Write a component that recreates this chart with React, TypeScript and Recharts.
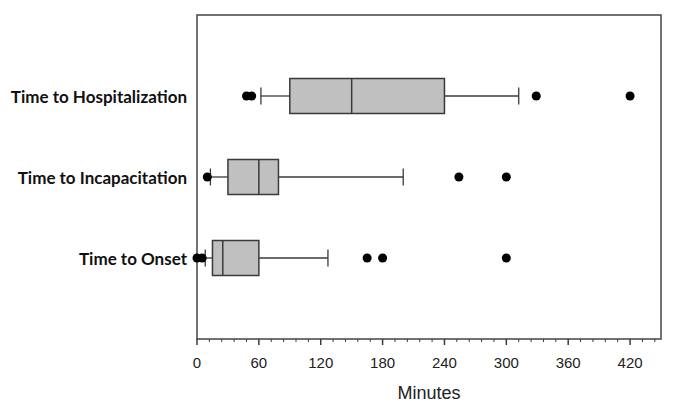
// Horizontal box plots: time from exposure to onset / incapacitation / hospitalization.

import {
  ComposedChart,
  Scatter,
  XAxis,
  YAxis,
  ReferenceArea,
  ReferenceLine,
} from 'recharts'

// bottom to top (y = 1, 2, 3)
const categories = ['Time to Onset', 'Time to Incapacitation', 'Time to Hospitalization']
const whiskerLow = [8, 13, 62]
const q1 = [15, 30, 90]
const median = [25, 60, 150]
const q3 = [60, 79, 240]
const whiskerHigh = [127, 200, 312]
const outliers = [
  [0, 5, 165, 180, 300],
  [10, 254, 300],
  [48, 53, 329, 420],
]
const minorTicks = Array.from({ length: 38 }, (_, i) => i * 12)

const BOX_HALF = 0.215
const CAP_HALF = 0.105
const LINE = '#3a3a3a'

const outlierData = outliers.flatMap((vals, i) => vals.map((v) => ({ x: v, y: i + 1 })))

function XTick({ x, y, payload }: { x: number; y: number; payload: { value: number } }) {
  const major = payload.value % 60 === 0
  return (
    <g>
      <line x1={x} x2={x} y1={y} y2={y + (major ? 6 : 3)} stroke={LINE} strokeWidth={major ? 1.5 : 1} />
      {major && (
        <text
          x={x}
          y={y + 23}
          textAnchor="middle"
          dominantBaseline="central"
          fontSize={15}
          fontFamily="Liberation Sans, Arial, sans-serif"
          fill="#222"
        >
          {payload.value}
        </text>
      )}
    </g>
  )
}

function YTick({ x, y, payload }: { x: number; y: number; payload: { value: number } }) {
  return (
    <text
      x={x}
      y={y}
      textAnchor="end"
      dominantBaseline="central"
      fontSize={17}
      fontWeight="bold"
      fontFamily="Lato, sans-serif"
      fill="#111"
    >
      {categories[payload.value - 1]}
    </text>
  )
}

export default function App() {
  return (
    <div style={{ position: 'absolute', left: 0, top: 0, background: '#fff' }}>
      <ComposedChart
        width={685}
        height={417}
        margin={{ top: 15, right: 24, bottom: 0, left: 0 }}
      >
        <XAxis
          type="number"
          dataKey="x"
          domain={[0, 450]}
          ticks={minorTicks}
          interval={0}
          tick={(p: any) => <XTick x={p.x} y={p.y} payload={p.payload} />}
          tickLine={false}
          tickSize={0}
          tickMargin={0}
          axisLine={false}
          height={78}
          label={{
            value: 'Minutes',
            position: 'insideBottom',
            offset: 18,
            fontSize: 18,
            fontFamily: 'Liberation Sans, Arial, sans-serif',
            fill: '#222',
          }}
        />
        <YAxis
          type="number"
          dataKey="y"
          domain={[0, 4]}
          ticks={[1, 2, 3]}
          width={197}
          tick={(p: any) => <YTick x={p.x} y={p.y} payload={p.payload} />}
          tickLine={false}
          axisLine={false}
          tickMargin={4}
        />
        {/* plot frame */}
        <ReferenceArea x1={0} x2={450} y1={0} y2={4} fill="none" stroke="#444" strokeWidth={1.5} />
        {categories.map((_, i) => {
          const c = i + 1
          return [
            <ReferenceLine
              key={`wl${i}`}
              segment={[{ x: whiskerLow[i], y: c }, { x: q1[i], y: c }]}
              stroke={LINE}
              strokeWidth={1.3}
            />,
            <ReferenceLine
              key={`wh${i}`}
              segment={[{ x: q3[i], y: c }, { x: whiskerHigh[i], y: c }]}
              stroke={LINE}
              strokeWidth={1.3}
            />,
            <ReferenceLine
              key={`cl${i}`}
              segment={[{ x: whiskerLow[i], y: c - CAP_HALF }, { x: whiskerLow[i], y: c + CAP_HALF }]}
              stroke={LINE}
              strokeWidth={1.3}
            />,
            <ReferenceLine
              key={`ch${i}`}
              segment={[{ x: whiskerHigh[i], y: c - CAP_HALF }, { x: whiskerHigh[i], y: c + CAP_HALF }]}
              stroke={LINE}
              strokeWidth={1.3}
            />,
            <ReferenceArea
              key={`box${i}`}
              x1={q1[i]}
              x2={q3[i]}
              y1={c - BOX_HALF}
              y2={c + BOX_HALF}
              fill="#c0c0c0"
              fillOpacity={1}
              stroke={LINE}
              strokeWidth={1.5}
            />,
            <ReferenceLine
              key={`md${i}`}
              segment={[{ x: median[i], y: c - BOX_HALF }, { x: median[i], y: c + BOX_HALF }]}
              stroke={LINE}
              strokeWidth={1.5}
            />,
          ]
        })}
        <Scatter data={outlierData} fill="#000" shape="circle" isAnimationActive={false} />
      </ComposedChart>
    </div>
  )
}
